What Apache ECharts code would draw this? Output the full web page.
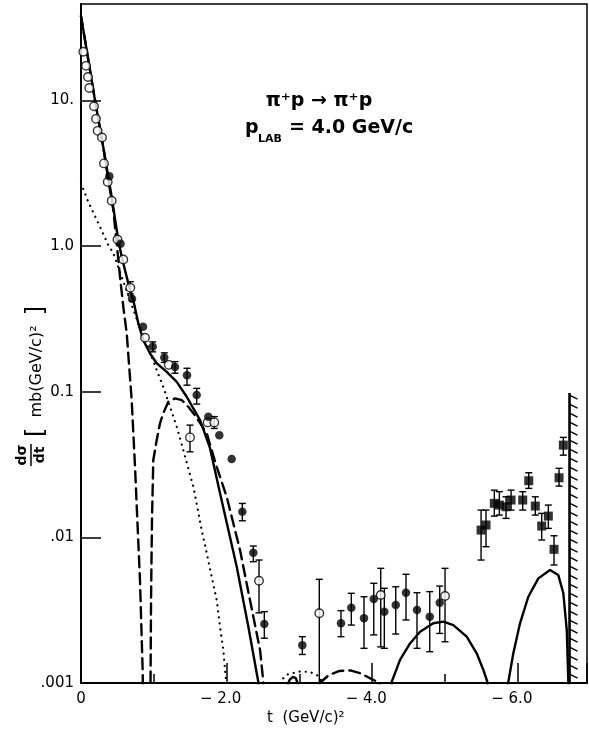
<!DOCTYPE html>
<html>
<head>
<meta charset="utf-8">
<script src="https://cdn.jsdelivr.net/npm/echarts@6/dist/echarts.min.js"></script>
<style>
  html, body { margin: 0; padding: 0; background: #fff; }
  #chart { width: 589px; height: 730px; }
</style>
</head>
<body>
<div id="chart"></div>
<script>
// t in (GeV/c)^2 (negative, as printed), dsigma/dt in mb/(GeV/c)^2
const openCircles = [
  [-0.032, 21.6], [-0.069, 17.3], [-0.096, 14.5], [-0.114, 12.2], [-0.179, 9.14],
  [-0.206, 7.48], [-0.229, 6.19], [-0.288, 5.57], [-0.316, 3.70], [-0.367, 2.76],
  [-0.422, 2.05], [-0.501, 1.11], [-0.581, 0.810], [-0.677, 0.517], [-0.879, 0.235],
  [-1.205, 0.153], [-1.497, 0.0486], [-1.740, 0.0616], [-1.831, 0.0616],
  [-2.445, 0.00504], [-3.273, 0.00301], [-4.117, 0.00402], [-5.0, 0.00396]
];
const openErrors = [
  [-0.677, 0.47, 0.57], [-1.497, 0.0387, 0.0590], [-1.831, 0.0560, 0.0675],
  [-2.445, 0.00303, 0.00699], [-3.273, 0.001, 0.00515], [-4.117, 0.00177, 0.00613],
  [-5.0, 0.00192, 0.00613]
];

const filledCircles = [
  [-0.389, 3.02], [-0.543, 1.04], [-0.701, 0.435], [-0.852, 0.279], [-0.985, 0.204],
  [-1.144, 0.172], [-1.291, 0.148], [-1.456, 0.130], [-1.589, 0.0949], [-1.749, 0.0673],
  [-1.900, 0.0502], [-2.070, 0.0345], [-2.216, 0.0150], [-2.367, 0.00784], [-2.518, 0.00254],
  [-3.040, 0.00182], [-3.571, 0.00257], [-3.713, 0.00329], [-3.887, 0.00278], [-4.021, 0.00377],
  [-4.166, 0.00309], [-4.323, 0.00343], [-4.464, 0.00417], [-4.615, 0.00317], [-4.790, 0.00285],
  [-4.927, 0.00356]
];
const filledErrors = [
  [-0.985, 0.188, 0.220], [-1.144, 0.159, 0.185], [-1.291, 0.134, 0.161], [-1.456, 0.111, 0.145],
  [-1.589, 0.0823, 0.1055], [-2.216, 0.0130, 0.0171], [-2.367, 0.00681, 0.00872],
  [-2.518, 0.00203, 0.00309], [-3.040, 0.00157, 0.00208], [-3.571, 0.00208, 0.00314],
  [-3.713, 0.0025, 0.00413], [-3.887, 0.00173, 0.00391], [-4.021, 0.00214, 0.00484],
  [-4.166, 0.00173, 0.00447], [-4.323, 0.00217, 0.00458], [-4.464, 0.00271, 0.00558],
  [-4.615, 0.00173, 0.00417], [-4.790, 0.00164, 0.00424], [-4.927, 0.00219, 0.00463]
];

const squares = [
  [-5.495, 0.01122], [-5.563, 0.01216], [-5.677, 0.01713], [-5.746, 0.01667], [-5.838, 0.01623],
  [-5.907, 0.01805], [-6.067, 0.01805], [-6.150, 0.02449], [-6.240, 0.01641], [-6.328, 0.01196],
  [-6.419, 0.0140], [-6.497, 0.00828], [-6.566, 0.02567], [-6.625, 0.0430]
];
const squareErrors = [
  [-5.495, 0.00699, 0.0154], [-5.563, 0.00863, 0.0154], [-5.677, 0.0140, 0.0211],
  [-5.746, 0.01423, 0.0206], [-5.838, 0.0135, 0.0190], [-5.907, 0.0154, 0.0211],
  [-6.067, 0.0154, 0.0206], [-6.150, 0.0217, 0.0278], [-6.240, 0.01423, 0.0190],
  [-6.328, 0.00959, 0.01462], [-6.419, 0.01153, 0.01667], [-6.497, 0.00646, 0.01026],
  [-6.566, 0.0225, 0.0298], [-6.625, 0.0367, 0.0486]
];

// model curves (values below .001 fall off the bottom of the plot)
const solidCurve = [
  [0, 38], [-0.078, 22.2], [-0.192, 10.05], [-0.306, 4.78], [-0.422, 2.17], [-0.512, 1.10],
  [-0.559, 0.845], [-0.65, 0.555], [-0.718, 0.426], [-0.787, 0.295], [-0.856, 0.226],
  [-0.948, 0.183], [-1.04, 0.157], [-1.177, 0.137], [-1.315, 0.117], [-1.452, 0.0924],
  [-1.635, 0.0639], [-1.772, 0.0410], [-1.909, 0.0202], [-2.139, 0.00629], [-2.298, 0.00244],
  [-2.435, 0.00102], [-2.5, 0.0001], [-2.80, 0.0001], [-2.83, 0.00095], [-2.87, 0.00106],
  [-2.91, 0.0011], [-2.95, 0.00108], [-2.99, 0.00095], [-3.03, 0.0001], [-4.2, 0.0001],
  [-4.268, 0.00102], [-4.382, 0.00144], [-4.519, 0.00187], [-4.657, 0.00225], [-4.839, 0.00257],
  [-4.977, 0.00264], [-5.114, 0.00250], [-5.298, 0.00208], [-5.435, 0.00160], [-5.526, 0.00123],
  [-5.581, 0.00102], [-5.64, 0.0001], [-5.81, 0.0001], [-5.870, 0.00102], [-5.938, 0.00160],
  [-6.030, 0.00257], [-6.144, 0.00391], [-6.282, 0.00523], [-6.442, 0.00597], [-6.556, 0.00551],
  [-6.625, 0.00413], [-6.672, 0.00231], [-6.694, 0.00102], [-6.70, 0.0001]
];
const dashedCurve = [
  [0, 38], [-0.078, 22.2], [-0.192, 10.05], [-0.306, 4.78], [-0.38, 2.75], [-0.444, 1.767],
  [-0.536, 0.616], [-0.581, 0.383], [-0.628, 0.252], [-0.696, 0.0877], [-0.742, 0.0305],
  [-0.81, 0.00509], [-0.848, 0.00117], [-0.86, 0.0001], [-0.95, 0.0001], [-0.955, 0.001],
  [-0.962, 0.00371], [-0.975, 0.01315], [-0.993, 0.034], [-1.04, 0.0466], [-1.085, 0.0607],
  [-1.13, 0.071], [-1.199, 0.0853], [-1.291, 0.090], [-1.383, 0.0877], [-1.474, 0.0788],
  [-1.593, 0.066], [-1.727, 0.0518], [-1.864, 0.0305], [-2.001, 0.019], [-2.184, 0.00819],
  [-2.321, 0.00371], [-2.459, 0.00169], [-2.504, 0.00102], [-2.55, 0.0001], [-3.22, 0.0001],
  [-3.28, 0.001], [-3.40, 0.00113], [-3.55, 0.00121], [-3.70, 0.00122], [-3.85, 0.00116],
  [-4.0, 0.00106], [-4.10, 0.001], [-4.15, 0.0001]
];
const dottedCurve = [
  [0, 2.71], [-0.10, 2.01], [-0.261, 1.357], [-0.375, 1.016], [-0.444, 0.895], [-0.559, 0.616],
  [-0.673, 0.426], [-0.787, 0.295], [-0.902, 0.215], [-1.04, 0.141], [-1.13, 0.108],
  [-1.223, 0.0788], [-1.315, 0.0575], [-1.405, 0.0398], [-1.543, 0.0223], [-1.58, 0.018],
  [-1.658, 0.0112], [-1.727, 0.0078], [-1.795, 0.00537], [-1.864, 0.00371], [-1.909, 0.00244],
  [-1.955, 0.00169], [-1.982, 0.00117], [-2.01, 0.0009], [-2.05, 0.0001], [-2.68, 0.0001],
  [-2.757, 0.00105], [-2.826, 0.00114], [-2.916, 0.00117], [-3.008, 0.0012], [-3.146, 0.00119],
  [-3.26, 0.00112], [-3.32, 0.001], [-3.38, 0.0001]
];

// kinematic limit, hatched
const kinematicLimit = [[-6.71, 0.098, 0.001]];

const yTickLabels = { '-3': '.001', '-2': '.01', '-1': '0.1', '0': '1.0', '1': '10.' };

const font = 'DejaVu Sans';
const toAxis = (arr) => arr.map((d) => [-d[0], ...d.slice(1)]);

function errorBars(data) {
  return {
    type: 'custom',
    data: toAxis(data),
    encode: { x: 0, y: [1, 2] },
    z: 3,
    renderItem: (params, api) => {
      const lo = api.coord([api.value(0), api.value(1)]);
      const hi = api.coord([api.value(0), api.value(2)]);
      const w = 3.5;
      const st = { stroke: '#000', lineWidth: 1.4 };
      return {
        type: 'group',
        children: [
          { type: 'line', shape: { x1: lo[0], y1: lo[1], x2: hi[0], y2: hi[1] }, style: st },
          { type: 'line', shape: { x1: lo[0] - w, y1: lo[1], x2: lo[0] + w, y2: lo[1] }, style: st },
          { type: 'line', shape: { x1: hi[0] - w, y1: hi[1], x2: hi[0] + w, y2: hi[1] }, style: st }
        ]
      };
    }
  };
}

function curve(data, type, width) {
  return {
    type: 'line',
    data: toAxis(data),
    symbol: 'none',
    clip: true,
    z: 2,
    lineStyle: { color: '#000', width: width, type: type, cap: 'round' }
  };
}

const chart = echarts.init(document.getElementById('chart'));
chart.setOption({
  animation: false,
  backgroundColor: '#fff',
  grid: {
    left: 81, right: 2, top: 4, bottom: 47, containLabel: false, outerBoundsMode: 'none',
    show: true, borderColor: '#000', borderWidth: 1.5
  },
  xAxis: {
    type: 'value', min: 0, max: 6.95, interval: 2,
    axisLine: { lineStyle: { color: '#000', width: 2 } },
    axisTick: { inside: true, length: 20, lineStyle: { color: '#000', width: 1.5 } },
    minorTick: { show: true, splitNumber: 2, length: 9, lineStyle: { color: '#000', width: 1.5 } },
    splitLine: { show: false },
    axisLabel: {
      margin: 9, color: '#000', fontFamily: font, fontSize: 15, showMaxLabel: false,
      formatter: (v) => (v === 0 ? '0' : (Math.abs(v % 2) < 1e-6 ? '{n|\u2212 ' + v.toFixed(1) + '}' : '')),
      rich: { n: { fontFamily: font, fontSize: 15, color: '#000', padding: [0, 12, 0, 0] } }
    }
  },
  yAxis: {
    type: 'log', logBase: 10, min: 0.001, max: 46,
    axisLine: { lineStyle: { color: '#000', width: 2 } },
    axisTick: { inside: true, length: 20, lineStyle: { color: '#000', width: 1.5 } },
    splitLine: { show: false },
    axisLabel: {
      margin: 7, color: '#000', fontFamily: font, fontSize: 15, showMaxLabel: false,
      formatter: (v) => {
        const e = Math.log10(v);
        const r = Math.round(e);
        return Math.abs(e - r) < 1e-6 ? (yTickLabels[String(r)] || '') : '';
      }
    }
  },
  graphic: [
    { type: 'text', left: 267, top: 711, style: { text: 't  (GeV/c)\u00b2', fontFamily: font, fontSize: 15, fill: '#000' } },
    {
      type: 'group', x: 31, y: 389, rotation: Math.PI / 2,
      children: [
        { type: 'text', x: -66, y: -9, style: { text: 'd\u03c3', fontFamily: font, fontSize: 14, fontWeight: 'bold', fill: '#000', align: 'center', verticalAlign: 'middle' } },
        { type: 'line', shape: { x1: -77, y1: 0, x2: -55, y2: 0 }, style: { stroke: '#000', lineWidth: 1.5 } },
        { type: 'text', x: -66, y: 9, style: { text: 'dt', fontFamily: font, fontSize: 14, fontWeight: 'bold', fill: '#000', align: 'center', verticalAlign: 'middle' } },
        {
          type: 'text', x: -48, y: 6,
          style: {
            text: '{b|[}  mb(GeV/c)\u00b2  {b|]}', fontFamily: font, fontSize: 16, fill: '#000',
            align: 'left', verticalAlign: 'middle',
            rich: { b: { fontFamily: font, fontSize: 24, fill: '#000' } }
          }
        }
      ]
    },
    { type: 'text', x: 319, y: 101, style: { text: '\u03c0\u207ap \u2192 \u03c0\u207ap', fontFamily: font, fontSize: 19, fontWeight: 'bold', fill: '#000', align: 'center', verticalAlign: 'middle' } },
    { type: 'text', x: 245, y: 128, style: { text: 'p', fontFamily: font, fontSize: 19, fontWeight: 'bold', fill: '#000', align: 'left', verticalAlign: 'middle' } },
    { type: 'text', x: 258, y: 139, style: { text: 'LAB', fontFamily: font, fontSize: 11, fontWeight: 'bold', fill: '#000', align: 'left', verticalAlign: 'middle' } },
    { type: 'text', x: 289, y: 128, style: { text: '= 4.0 GeV/c', fontFamily: font, fontSize: 19, fontWeight: 'bold', fill: '#000', align: 'left', verticalAlign: 'middle' } }
  ],
  series: [
    curve(solidCurve, 'solid', 2.4),
    curve(dashedCurve, [11, 6], 2.4),
    curve(dottedCurve, [0.1, 6], 2.2),
    {
      type: 'custom',
      data: toAxis(kinematicLimit),
      encode: { x: 0, y: [1, 2] },
      z: 3,
      renderItem: (params, api) => {
        const top = api.coord([api.value(0), api.value(1)]);
        const bot = api.coord([api.value(0), api.value(2)]);
        const children = [
          { type: 'line', shape: { x1: top[0], y1: top[1], x2: bot[0], y2: bot[1] }, style: { stroke: '#000', lineWidth: 2.6 } }
        ];
        for (let y = top[1] + 2; y < bot[1] - 6; y += 9) {
          children.push({ type: 'line', shape: { x1: top[0], y1: y, x2: top[0] + 8, y2: y + 4 }, style: { stroke: '#000', lineWidth: 1.4 } });
        }
        return { type: 'group', children };
      }
    },
    errorBars(openErrors),
    errorBars(filledErrors),
    errorBars(squareErrors),
    {
      type: 'scatter', data: toAxis(openCircles), symbol: 'circle', symbolSize: 8.5, z: 4,
      itemStyle: { color: '#fff', borderColor: '#000', borderWidth: 1.4 }
    },
    {
      type: 'scatter', data: toAxis(filledCircles), symbol: 'circle', symbolSize: 8.5, z: 4,
      itemStyle: { color: '#000' }
    },
    {
      type: 'scatter', data: toAxis(squares), symbol: 'rect', symbolSize: 9, z: 4,
      itemStyle: { color: '#000' }
    }
  ]
});
</script>
</body>
</html>
